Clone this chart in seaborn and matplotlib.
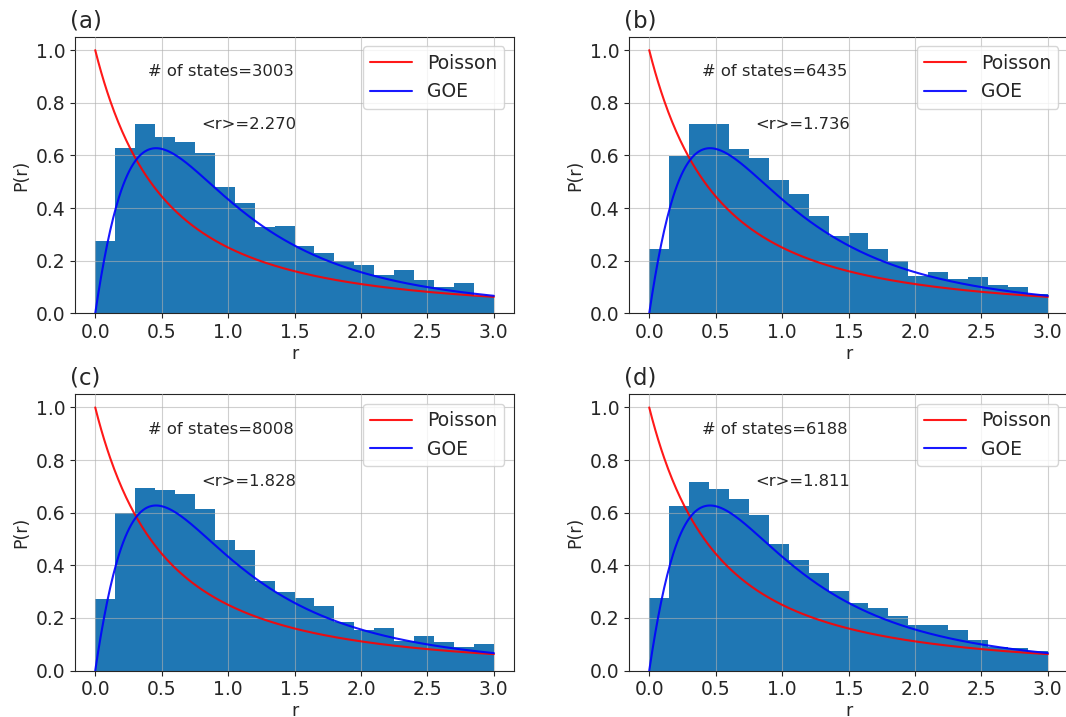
import numpy as np
import pandas as pd
import matplotlib
matplotlib.use("Agg")
import matplotlib.pyplot as plt
import seaborn as sns

# Histogram bins of the level-spacing ratio r
bin_edges = [round(0.15 * k, 2) for k in range(21)]

panel_labels = ["(a)", "(b)", "(c)", "(d)"]
num_states = [3003, 6435, 8008, 6188]
mean_r = ["2.270", "1.736", "1.828", "1.811"]

# Normalised bin heights P(r), one list per panel
heights_a = [0.276, 0.629, 0.720, 0.671, 0.651, 0.609, 0.480, 0.419, 0.327, 0.330,
             0.257, 0.230, 0.197, 0.182, 0.145, 0.164, 0.126, 0.099, 0.114, 0.066]
heights_b = [0.243, 0.597, 0.720, 0.720, 0.624, 0.591, 0.506, 0.452, 0.368, 0.292,
             0.304, 0.243, 0.199, 0.142, 0.156, 0.132, 0.137, 0.106, 0.099, 0.072]
heights_c = [0.273, 0.600, 0.695, 0.686, 0.672, 0.615, 0.495, 0.458, 0.342, 0.300,
             0.275, 0.247, 0.186, 0.154, 0.163, 0.112, 0.130, 0.107, 0.088, 0.102]
heights_d = [0.276, 0.625, 0.718, 0.690, 0.652, 0.592, 0.481, 0.420, 0.370, 0.304,
             0.256, 0.237, 0.209, 0.172, 0.172, 0.153, 0.116, 0.088, 0.086, 0.076]
all_heights = [heights_a, heights_b, heights_c, heights_d]


def poisson(r):
    return 1.0 / (1.0 + r) ** 2


def goe(r):
    return 27.0 / 8.0 * (r + r ** 2) / (1.0 + r + r ** 2) ** 2.5


sns.set_style("ticks")
plt.rcParams["font.family"] = ["DejaVu Sans"]
plt.rcParams["axes.edgecolor"] = "#262626"
plt.rcParams["axes.linewidth"] = 0.8
plt.rcParams["xtick.color"] = "#262626"
plt.rcParams["ytick.color"] = "#262626"
plt.rcParams["text.color"] = "#262626"
plt.rcParams["axes.labelcolor"] = "#262626"

fig = plt.figure(figsize=(10.66, 7.17), dpi=100)

W, H = 1066.0, 717.0
ax_w = 438.5 / W
ax_h = 276.3 / H
lefts = [75.3 / W, 629.3 / W]
bottoms = [(H - 313.3) / H, (H - 670.6) / H]
positions = [(lefts[0], bottoms[0]), (lefts[1], bottoms[0]),
             (lefts[0], bottoms[1]), (lefts[1], bottoms[1])]

edges = np.array(bin_edges)
centers = (edges[:-1] + edges[1:]) / 2
r = np.linspace(0, 3, 400)
curves = pd.DataFrame({"r": r, "Poisson": poisson(r), "GOE": goe(r)})

for i, (left, bottom) in enumerate(positions):
    ax = fig.add_axes([left, bottom, ax_w, ax_h])
    df = pd.DataFrame({"r": centers, "P": all_heights[i]})
    sns.histplot(data=df, x="r", weights="P", bins=bin_edges, stat="count",
                 color="#1f77b4", alpha=1.0, linewidth=0, ax=ax)
    sns.lineplot(data=curves, x="r", y="Poisson", color="red", lw=1.5,
                 alpha=0.9, label="Poisson", ax=ax, zorder=3)
    sns.lineplot(data=curves, x="r", y="GOE", color="blue", lw=1.5,
                 alpha=0.9, label="GOE", ax=ax, zorder=3)

    ax.set_xlim(-0.15, 3.15)
    ax.set_ylim(0, 1.05)
    ax.set_xticks(np.arange(0, 3.01, 0.5))
    ax.set_yticks(np.arange(0, 1.01, 0.2))
    ax.xaxis.set_major_formatter(matplotlib.ticker.FormatStrFormatter("%.1f"))
    ax.yaxis.set_major_formatter(matplotlib.ticker.FormatStrFormatter("%.1f"))
    ax.tick_params(labelsize=13.5, length=3.5, width=0.8)
    ax.grid(True, color="#b0b0b0", lw=0.8, alpha=0.6)
    ax.set_axisbelow(False)
    for s in ax.spines.values():
        s.set_visible(True)

    ax.set_xlabel("r", fontsize=12.5, labelpad=2)
    ax.set_ylabel("P(r)", fontsize=12.5, labelpad=4)

    ax.text(0.4, 0.9, f"# of states={num_states[i]}", fontsize=11.8)
    ax.text(0.8, 0.7, f"<r>={mean_r[i]}", fontsize=11.8)
    ax.text(-0.012, 1.035, panel_labels[i], transform=ax.transAxes,
            fontsize=16.5, ha="left", va="baseline")

    ax.legend(loc="upper right", fontsize=13.5, frameon=True, framealpha=0.8,
              edgecolor="#cccccc", fancybox=True, handlelength=2.2)

fig.savefig("out.png", dpi=100)
